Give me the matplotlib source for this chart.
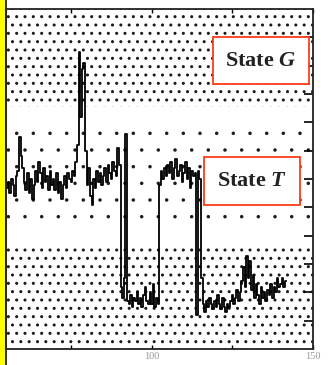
import numpy as np
import matplotlib.pyplot as plt
from matplotlib.patches import Rectangle
from matplotlib.lines import Line2D

plt.rcParams['mathtext.fontset'] = 'custom'
plt.rcParams['mathtext.it'] = 'Liberation Serif:italic:bold'
plt.rcParams['mathtext.rm'] = 'Liberation Serif:bold'

# time trace, sampled every 0.5 units from t = 55
t_start, t_step = 55.0, 0.5
signal = [
    5.7, 5.9, 5.5, 6.0, 5.8, 5.4, 6.1, 6.3, 7.5, 6.8,
    6.4, 5.9, 5.6, 6.2, 5.5, 6.0, 5.3, 5.8, 6.3, 5.9,
    6.6, 6.2, 5.7, 6.4, 5.9, 6.1, 5.6, 6.3, 5.8, 6.0,
    5.6, 6.2, 5.5, 5.9, 5.3, 5.8, 6.1, 5.7, 6.2, 6.0,
    5.9, 6.3, 6.1, 6.6, 7.2, 10.5, 8.2, 9.9, 10.1, 7.0,
    5.8, 6.4, 5.4, 5.1, 6.0, 5.7, 6.3, 5.9, 6.2, 5.8,
    6.1, 6.4, 5.9, 6.5, 6.2, 6.0, 6.6, 6.3, 6.1, 7.1,
    6.5, 2.2, 1.8, 2.5, 7.6, 1.7, 1.6, 1.9, 1.5, 1.8,
    1.7, 2.0, 1.6, 1.8, 1.5, 1.9, 2.2, 1.7, 1.6, 2.0,
    1.6, 2.3, 1.5, 1.8, 1.6, 5.8, 6.3, 6.0, 6.4, 6.1,
    6.5, 6.2, 6.6, 6.0, 6.4, 6.7, 6.1, 6.3, 6.5, 5.9,
    6.2, 6.6, 6.0, 6.4, 5.7, 6.3, 6.1, 6.2, 1.2, 6.3,
    6.0, 2.5, 1.6, 1.3, 1.7, 1.5, 1.8, 1.6, 1.4, 1.7,
    1.5, 1.9, 1.6, 1.4, 1.8, 1.5, 1.3, 1.6, 1.5, 1.7,
    1.9, 1.6, 1.8, 2.1, 1.7, 2.0, 2.4, 2.9, 2.2, 3.3,
    2.5, 3.1, 2.1, 2.6, 1.8, 2.3, 1.9, 1.6, 2.2, 1.8,
    2.0, 1.7, 2.1, 1.9, 2.3, 1.8, 2.2, 2.0, 2.5, 2.2,
    2.3, 2.5, 2.2, 2.4,
]
t = t_start + t_step * np.arange(len(signal))

# shaded bands: (lower, upper, hatch, dot stroke width)
bands = [(8.55, 12.0, '..', 1.0), (4.5, 7.75, '.', 0.1), (0.0, 3.55, '..', 1.0)]

# state labels and their boxes (axes fraction: x0, y0, x1, y1)
states = ['State $G$', 'State $T$']
boxes = [(0.674, 0.779, 0.987, 0.918), (0.645, 0.424, 0.958, 0.565)]

fig = plt.figure(figsize=(3.29, 3.65), dpi=100)
ax = fig.add_axes([6 / 329, 16 / 365, 307 / 329, 340 / 365])

for lo, hi, h, hw in bands:
    with plt.rc_context({'hatch.linewidth': hw}):
        ax.axhspan(lo, hi, facecolor='white', edgecolor='#1a1a1a', hatch=h,
                   linewidth=0, zorder=0)

ax.plot(t, signal, color='black', linewidth=1.3, drawstyle='steps-mid', zorder=3)

for label, (x0, y0, x1, y1) in zip(states, boxes):
    ax.add_patch(Rectangle((x0, y0), x1 - x0, y1 - y0, transform=ax.transAxes,
                           facecolor='white', edgecolor='#ff3a1a', linewidth=1.3,
                           zorder=4))
    ax.text((x0 + x1) / 2, (y0 + y1) / 2, label, transform=ax.transAxes,
            ha='center', va='center', fontsize=16, fontweight='bold',
            family='Liberation Serif', color='#222222', zorder=5)

ax.set_xlim(54.7, 150)
ax.set_ylim(0, 12)
ax.set_xticks([100, 150])
ax.set_xticklabels(['100', '150'])
ax.set_xticks([75, 125], minor=True)
ax.set_yticks(np.arange(1, 12))
ax.tick_params(axis='x', which='both', direction='in', length=3, width=1,
               top=True, pad=2, labelsize=7.5, labelcolor='#999999')
ax.tick_params(axis='y', direction='in', length=6.5, width=1.2,
               left=False, right=True, labelleft=False)
for lab in ax.get_xticklabels():
    lab.set_family('Liberation Serif')
for sp in ax.spines.values():
    sp.set_linewidth(1.3)
    sp.set_color('#222222')

# yellow strip and vertical rule on the left edge
fig.add_artist(Rectangle((0, 0), 4.5 / 329, 1, transform=fig.transFigure,
                         facecolor='#ffff00', edgecolor='none'))
fig.add_artist(Line2D([6 / 329, 6 / 329], [0, 1], transform=fig.transFigure,
                      color='#222222', linewidth=1.3))

fig.savefig('out.png', dpi=100)
